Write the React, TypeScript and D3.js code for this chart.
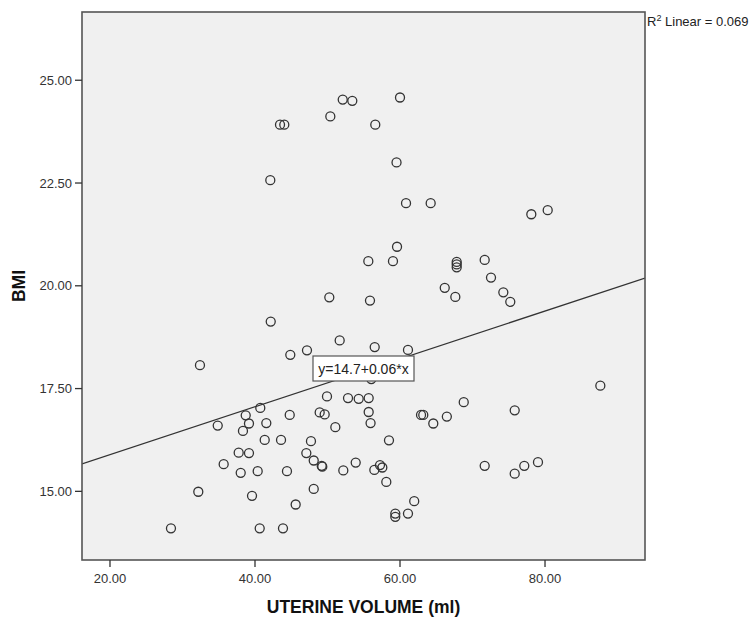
import React from "react";
import * as d3 from "d3";

const uterineVolume: number[] = [
  52.1, 53.42, 50.39, 43.45, 44.04, 56.59, 60.0, 59.52, 42.11, 59.59,
  55.63, 59.03, 60.83, 64.23, 78.11, 80.37, 67.82, 67.82, 67.82, 71.68,
  72.55, 66.17, 67.63, 74.25, 75.21, 50.25, 55.86, 42.17, 51.68, 56.51,
  44.87, 47.17, 32.41, 61.1, 56.04, 87.63, 49.93, 52.83, 54.3, 55.68,
  68.79, 40.73, 38.72, 44.79, 48.92, 49.61, 55.68, 75.82, 62.9, 63.21,
  64.59, 66.46, 34.86, 39.17, 41.56, 51.08, 55.94, 38.34, 41.34, 43.59,
  47.72, 58.48, 37.75, 39.17, 47.08, 48.1, 49.2, 49.28, 35.68, 38.03,
  40.37, 44.41, 52.18, 53.89, 57.24, 57.56, 56.46, 58.11, 71.68, 75.82,
  77.14, 79.03, 32.18, 39.59, 48.1, 45.61, 59.35, 59.35, 61.1, 61.96,
  28.41, 40.65, 43.86,
];
const bmi: number[] = [
  24.53, 24.5, 24.12, 23.92, 23.92, 23.92, 24.58, 23.0, 22.57, 20.95,
  20.6, 20.6, 22.01, 22.01, 21.74, 21.84, 20.58, 20.52, 20.45, 20.63,
  20.2, 19.95, 19.73, 19.84, 19.61, 19.72, 19.64, 19.13, 18.67, 18.51,
  18.32, 18.43, 18.07, 18.44, 17.73, 17.57, 17.31, 17.27, 17.25, 17.27,
  17.17, 17.03, 16.85, 16.86, 16.92, 16.87, 16.93, 16.97, 16.86, 16.86,
  16.65, 16.82, 16.6, 16.65, 16.66, 16.56, 16.66, 16.47, 16.25, 16.25,
  16.22, 16.24, 15.94, 15.93, 15.93, 15.75, 15.62, 15.6, 15.66, 15.45,
  15.49, 15.49, 15.51, 15.7, 15.64, 15.58, 15.52, 15.23, 15.62, 15.43,
  15.62, 15.71, 14.99, 14.89, 15.06, 14.68, 14.46, 14.38, 14.46, 14.76,
  14.1, 14.1, 14.1,
];

const xTicks: number[] = [20, 40, 60, 80];
const yTicks: number[] = [15, 17.5, 20, 22.5, 25];
const fitIntercept = 14.73;
const fitSlope = 0.0582;
const equationLabel = "y=14.7+0.06*x";
const r2Value = "0.069";
const xTitle = "UTERINE VOLUME (ml)";
const yTitle = "BMI";

const W = 750;
const H = 617;
const L = 82, R = 645, T = 12, B = 560;

export default function App() {
  const x = d3.scaleLinear().domain([16.14, 93.79]).range([L, R]);
  const y = d3.scaleLinear().domain([13.33, 26.66]).range([B, T]);
  const font = "'Liberation Sans', Arial, sans-serif";
  const [x0, x1] = x.domain();
  const line = d3.line<number>().x((d) => x(d)).y((d) => y(fitIntercept + fitSlope * d));
  const cx = (L + R) / 2;
  const cy = (T + B) / 2;
  const boxW = 101, boxH = 25;
  const boxCy = 368.5;

  return (
    <svg width={W} height={H} style={{ position: "absolute", left: 0, top: 0, background: "#fff" }}>
      <rect x={L} y={T} width={R - L} height={B - T} fill="#f0f0f0" />
      <defs>
        <clipPath id="plotclip">
          <rect x={L} y={T} width={R - L} height={B - T} />
        </clipPath>
      </defs>
      <g clipPath="url(#plotclip)">
        {uterineVolume.map((v, i) => (
          <circle key={i} cx={x(v)} cy={y(bmi[i])} r={4.5} fill="none" stroke="#333" strokeWidth={1.3} />
        ))}
        <path d={line([x0, x1]) || ""} fill="none" stroke="#333" strokeWidth={1.2} />
      </g>
      <rect x={cx - boxW / 2} y={boxCy - boxH / 2} width={boxW} height={boxH} fill="#fff" stroke="#555" strokeWidth={1.2} />
      <text x={cx} y={boxCy + 5} textAnchor="middle" fontFamily={font} fontSize={14} fill="#222">{equationLabel}</text>
      <rect x={L} y={T} width={R - L} height={B - T} fill="none" stroke="#555" strokeWidth={1.6} />
      {yTicks.map((t) => (
        <g key={t}>
          <line x1={L - 7} x2={L} y1={y(t)} y2={y(t)} stroke="#333" strokeWidth={1.3} />
          <text x={72} y={y(t) + 4.5} textAnchor="end" fontFamily={font} fontSize={13} fill="#333">{t.toFixed(2)}</text>
        </g>
      ))}
      {xTicks.map((t) => (
        <g key={t}>
          <line x1={x(t)} x2={x(t)} y1={B} y2={B + 7} stroke="#333" strokeWidth={1.3} />
          <text x={x(t)} y={582.5} textAnchor="middle" fontFamily={font} fontSize={13} fill="#333">{t.toFixed(2)}</text>
        </g>
      ))}
      <text x={cx} y={613} textAnchor="middle" fontFamily={font} fontSize={17.5} fontWeight="bold" fill="#111">{xTitle}</text>
      <text transform={`translate(25,${cy}) rotate(-90)`} textAnchor="middle" fontFamily={font} fontSize={17.5} fontWeight="bold" fill="#111">{yTitle}</text>
      <text x={647} y={26} fontFamily={font} fontSize={13} fill="#222">
        R<tspan fontSize={9} dy={-5}>2</tspan><tspan dy={5}>{` Linear = ${r2Value}`}</tspan>
      </text>
    </svg>
  );
}
